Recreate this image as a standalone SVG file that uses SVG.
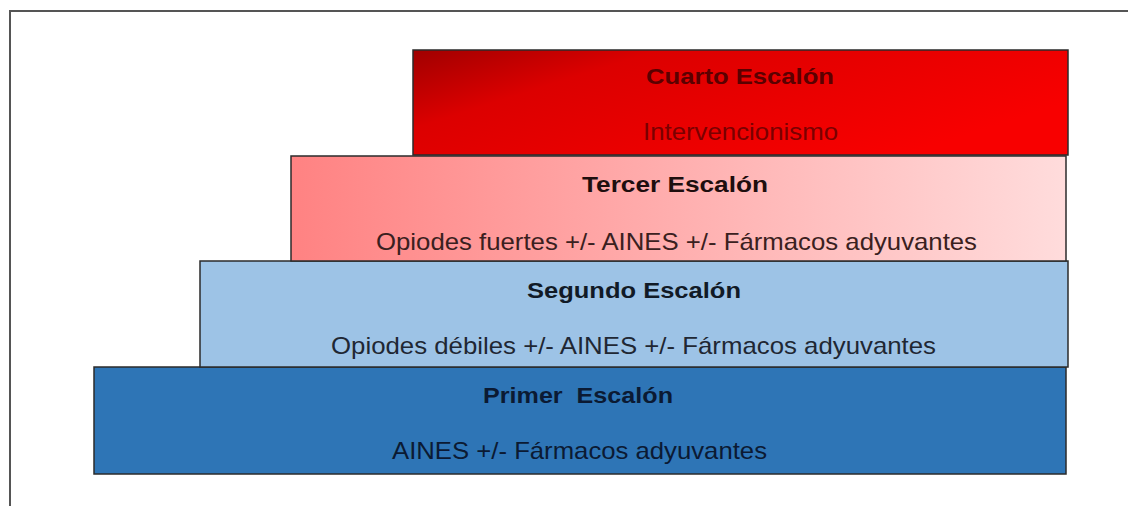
<svg xmlns="http://www.w3.org/2000/svg" width="1128" height="506" viewBox="0 0 1128 506">
<style>
.box{stroke:#2b2b2b;stroke-width:1.5}
.t{font-family:"Liberation Sans",Arial,sans-serif;font-weight:bold;font-size:22px;text-anchor:start;white-space:pre}
.b{font-family:"Liberation Sans",Arial,sans-serif;font-size:24px;text-anchor:start}
</style>
<defs>
<linearGradient id="gRed" x1="0" y1="0" x2="1" y2="0.5">
<stop offset="0" stop-color="#a00000"/>
<stop offset="0.3" stop-color="#dc0000"/>
<stop offset="1" stop-color="#f80000"/>
</linearGradient>
<linearGradient id="gPink" x1="0" y1="0" x2="1" y2="0">
<stop offset="0" stop-color="#ff8282"/>
<stop offset="1" stop-color="#ffdcdc"/>
</linearGradient>
</defs>
<rect width="1128" height="506" fill="#ffffff"/>
<path d="M10,506 V11 H1128" fill="none" stroke="#555" stroke-width="2"/>
<g id="primer">
<rect class="box" x="94" y="367" width="972" height="107" fill="#2e75b6"/>
<text class="t" x="483" y="403" fill="#0b1a33" textLength="190" lengthAdjust="spacingAndGlyphs" xml:space="preserve">Primer  Escalón</text>
<text class="b" x="392" y="459" fill="#0b1a33" textLength="375" lengthAdjust="spacingAndGlyphs">AINES +/- Fármacos adyuvantes</text>
</g>
<g id="segundo">
<rect class="box" x="200" y="261" width="868" height="106" fill="#9dc3e6"/>
<text class="t" x="527" y="298" fill="#111a26" textLength="214" lengthAdjust="spacingAndGlyphs">Segundo Escalón</text>
<text class="b" x="331" y="354" fill="#1f2733" textLength="605" lengthAdjust="spacingAndGlyphs">Opiodes débiles +/- AINES +/- Fármacos adyuvantes</text>
</g>
<g id="tercer">
<rect class="box" x="291" y="156" width="775" height="105" fill="url(#gPink)"/>
<text class="t" x="582" y="192" fill="#1e0e0e" textLength="186" lengthAdjust="spacingAndGlyphs">Tercer Escalón</text>
<text class="b" x="376" y="250" fill="#3a2020" textLength="601" lengthAdjust="spacingAndGlyphs">Opiodes fuertes +/- AINES +/- Fármacos adyuvantes</text>
</g>
<g id="cuarto">
<rect class="box" x="413" y="50" width="655" height="105" fill="url(#gRed)"/>
<text class="t" x="646" y="84" fill="#5a0000" textLength="188" lengthAdjust="spacingAndGlyphs">Cuarto Escalón</text>
<text class="b" x="643" y="140" fill="#7a0000" textLength="195" lengthAdjust="spacingAndGlyphs">Intervencionismo</text>
</g>
<g id="connectors"/>
</svg>
